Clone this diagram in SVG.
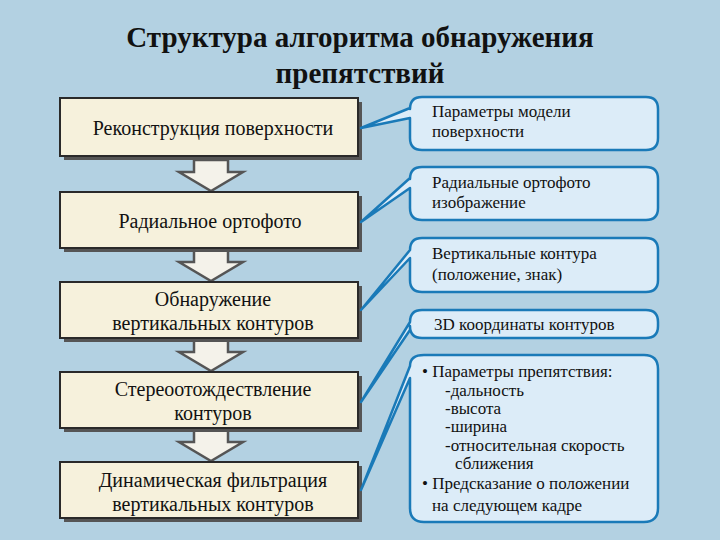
<svg xmlns="http://www.w3.org/2000/svg" width="720" height="540" viewBox="0 0 720 540">
<style>
text{font-family:'Liberation Serif','DejaVu Serif','Times New Roman',serif;fill:#111}
.title{font-size:29px;font-weight:bold;text-anchor:middle}
.bx{fill:#f6f1dc;stroke:#2a2a2a;stroke-width:2}
.sh{fill:#555}
.bt{font-size:20px;text-anchor:middle}
.bb{fill:#dcecf8;stroke:#1a7ab8;stroke-width:2.5;stroke-linejoin:round}
.ct{font-size:17px}
.ar{fill:#f4f2ea;stroke:#555;stroke-width:2.5;stroke-linejoin:miter}
</style>
<rect width="720" height="540" fill="#b3d1e2"/>
<text class="title" x="360" y="47">Структура алгоритма обнаружения</text>
<text class="title" x="360" y="83">препятствий</text>
<g id="connectors">
<path class="ar" d="M197,160 H228 V172 H243 L211,191 L179,172 H194 V160 Z"/>
<path class="ar" d="M197,250 H228 V262 H243 L211,281 L179,262 H194 V250 Z"/>
<path class="ar" d="M197,340 H228 V352 H243 L211,371 L179,352 H194 V340 Z"/>
<path class="ar" d="M197,430 H228 V442 H243 L211,461 L179,442 H194 V430 Z"/>
</g>
<g id="n1"><rect class="sh" x="64" y="102" width="298" height="58"/><rect class="bx" x="60" y="98" width="298" height="58"/><text class="bt" x="213" y="135">Реконструкция поверхности</text></g>
<g id="n2"><rect class="sh" x="64" y="196" width="298" height="56"/><rect class="bx" x="60" y="192" width="298" height="56"/><text class="bt" x="210" y="228">Радиальное ортофото</text></g>
<g id="n3"><rect class="sh" x="64" y="286" width="298" height="56"/><rect class="bx" x="60" y="282" width="298" height="56"/><text class="bt" x="213" y="306">Обнаружение</text><text class="bt" x="213" y="330">вертикальных контуров</text></g>
<g id="n4"><rect class="sh" x="64" y="376" width="298" height="56"/><rect class="bx" x="60" y="372" width="298" height="56"/><text class="bt" x="213" y="396">Стереоотождествление</text><text class="bt" x="213" y="420">контуров</text></g>
<g id="n5"><rect class="sh" x="64" y="466" width="298" height="56"/><rect class="bx" x="60" y="462" width="298" height="56"/><text class="bt" x="213" y="487">Динамическая фильтрация</text><text class="bt" x="213" y="511">вертикальных контуров</text></g>
<g id="c1"><path class="bb" d="M422,97 H646 Q658,97 658,109 V138 Q658,150 646,150 H422 Q410,150 410,138 V118 L361,128 L410,108 V109 Q410,97 422,97 Z"/><text class="ct" x="432" y="117">Параметры модели</text><text class="ct" x="432" y="137">поверхности</text></g>
<g id="c2"><path class="bb" d="M422,167 H646 Q658,167 658,179 V208 Q658,220 646,220 H422 Q410,220 410,208 V188 L361,222 L410,178 V179 Q410,167 422,167 Z"/><text class="ct" x="432" y="188">Радиальные ортофото</text><text class="ct" x="432" y="208">изображение</text></g>
<g id="c3"><path class="bb" d="M422,238 H646 Q658,238 658,250 V280 Q658,292 646,292 H422 Q410,292 410,280 V258 L361,310 L410,250 Q410,238 422,238 Z"/><text class="ct" x="432" y="259">Вертикальные контура</text><text class="ct" x="432" y="280">(положение, знак)</text></g>
<g id="c4"><path class="bb" d="M422,310 H646 Q658,310 658,322 V326 Q658,338 646,338 H422 Q410,338 410,326 V330 L361,402 L410,322 Q410,310 422,310 Z"/><text class="ct" x="434" y="330">3D координаты контуров</text></g>
<g id="c5"><path class="bb" d="M424,355 H644 Q658,355 658,369 V508 Q658,522 644,522 H424 Q410,522 410,508 V378 L361,490 L410,366 Q410,355 424,355 Z"/>
<text class="ct" x="422" y="377">• Параметры препятствия:</text>
<text class="ct" x="445" y="396">-дальность</text>
<text class="ct" x="445" y="414">-высота</text>
<text class="ct" x="445" y="432">-ширина</text>
<text class="ct" x="445" y="451">-относительная скорость</text>
<text class="ct" x="455" y="469">сближения</text>
<text class="ct" x="422" y="489">• Предсказание о положении</text>
<text class="ct" x="432" y="511">на следующем кадре</text></g>
</svg>
